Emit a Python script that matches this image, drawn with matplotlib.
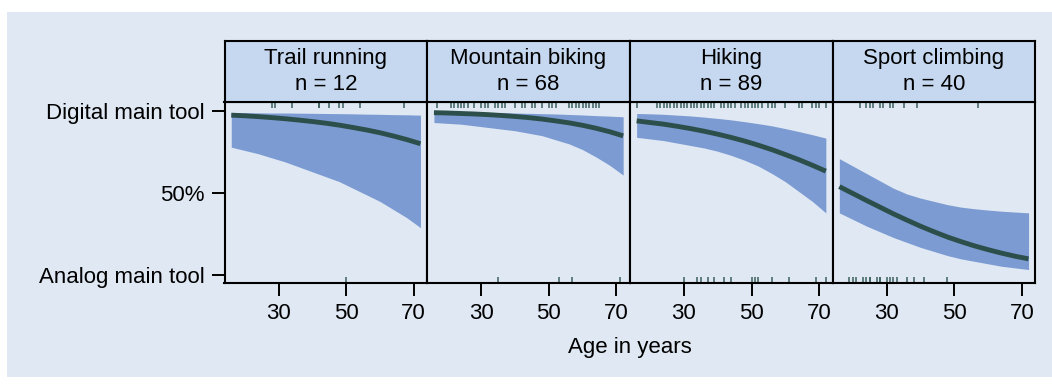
"""Predicted probability of digital main tool by age, per sport."""
import matplotlib
matplotlib.use("Agg")
import matplotlib.pyplot as plt
from matplotlib.patches import Rectangle

plt.rcParams["font.family"] = ["Liberation Sans", "DejaVu Sans"]

# ---- data ----
SPORTS = ["Trail running", "Mountain biking", "Hiking", "Sport climbing"]
N_OBS = [12, 68, 89, 40]

AGES = [16, 20, 24, 28, 32, 36, 40, 44, 48, 52, 56, 60, 64, 68, 72]

fit_trail = [0.975, 0.971, 0.966, 0.960, 0.953, 0.945, 0.936, 0.926, 0.914,
             0.900, 0.885, 0.868, 0.848, 0.826, 0.801]
lo_trail = [0.78, 0.76, 0.74, 0.715, 0.69, 0.66, 0.63, 0.60, 0.57, 0.53,
            0.49, 0.45, 0.40, 0.35, 0.29]
hi_trail = [0.990, 0.990, 0.989, 0.988, 0.988, 0.987, 0.986, 0.985, 0.984,
            0.983, 0.981, 0.980, 0.978, 0.977, 0.975]

fit_mtb = [0.990, 0.988, 0.985, 0.982, 0.978, 0.973, 0.967, 0.960, 0.951,
           0.940, 0.928, 0.913, 0.895, 0.874, 0.849]
lo_mtb = [0.93, 0.925, 0.92, 0.91, 0.90, 0.89, 0.88, 0.865, 0.85, 0.825,
          0.80, 0.765, 0.72, 0.67, 0.61]
hi_mtb = [0.995, 0.994, 0.993, 0.992, 0.991, 0.990, 0.988, 0.986, 0.984,
          0.982, 0.979, 0.976, 0.972, 0.969, 0.965]

fit_hike = [0.940, 0.930, 0.920, 0.907, 0.893, 0.877, 0.859, 0.839, 0.817,
            0.792, 0.765, 0.735, 0.704, 0.670, 0.634]
lo_hike = [0.84, 0.83, 0.82, 0.805, 0.79, 0.775, 0.755, 0.73, 0.70, 0.665,
           0.62, 0.57, 0.51, 0.45, 0.38]
hi_hike = [0.985, 0.983, 0.980, 0.975, 0.970, 0.963, 0.955, 0.946, 0.935,
           0.923, 0.910, 0.893, 0.875, 0.856, 0.835]

fit_climb = [0.540, 0.498, 0.456, 0.415, 0.374, 0.336, 0.299, 0.265, 0.233,
             0.205, 0.179, 0.156, 0.135, 0.116, 0.100]
lo_climb = [0.38, 0.34, 0.30, 0.265, 0.23, 0.20, 0.17, 0.145, 0.12, 0.10,
            0.085, 0.07, 0.055, 0.045, 0.035]
hi_climb = [0.71, 0.665, 0.62, 0.575, 0.53, 0.495, 0.47, 0.45, 0.43, 0.415,
            0.405, 0.397, 0.39, 0.385, 0.38]

FITS = [fit_trail, fit_mtb, fit_hike, fit_climb]
LOWS = [lo_trail, lo_mtb, lo_hike, lo_climb]
HIGHS = [hi_trail, hi_mtb, hi_hike, hi_climb]

# ages of respondents using a digital (top rug) or analog (bottom rug) main tool
digital_trail = [28, 29, 34, 42, 42, 45, 48, 49, 54, 67]
analog_trail = [50]
digital_mtb = [17, 21, 22, 23, 24, 25, 26, 28, 30, 31, 32, 34, 35, 36, 37, 40,
               42, 43, 45, 46, 48, 50, 51, 52, 56, 57, 58, 59, 60, 61, 62, 63,
               64, 65]
analog_mtb = [35, 53, 57, 71]
digital_hike = [16, 22, 23, 24, 25, 26, 27, 28, 29, 30, 31, 32, 33, 34, 35, 36,
                37, 38, 39, 41, 42, 43, 44, 45, 47, 48, 49, 50, 51, 52, 53, 55,
                56, 57, 60, 64, 65, 68, 69, 70, 72]
analog_hike = [30, 34, 35, 37, 39, 42, 44, 50, 51, 52, 56, 61, 69, 72]
digital_climb = [22, 24, 25, 26, 28, 29, 31, 32, 35, 39, 57]
analog_climb = [19, 20, 21, 23, 24, 25, 25, 27, 28, 28, 30, 31, 32, 33, 36, 38,
                41, 48]

DIGITAL = [digital_trail, digital_mtb, digital_hike, digital_climb]
ANALOG = [analog_trail, analog_mtb, analog_hike, analog_climb]

X_TICKS = [30, 50, 70]
Y_TICKS = [0, 0.5, 1]
Y_LABELS = ["Analog main tool", "50%", "Digital main tool"]

# ---- style ----
BG = "#dfe8f3"
STRIP = "#c5d8ef"
BAND = "#7b9bd2"
LINE = "#2d4f4b"
RUG = "#3d615c"
W, H = 1052, 384

fig = plt.figure(figsize=(W / 100, H / 100), dpi=100)
fig.patch.set_facecolor("white")
fig.patches.append(Rectangle((7 / W, 7 / H), 1 - 7 / W, 1 - 19 / H,
                             transform=fig.transFigure, facecolor=BG,
                             edgecolor="none", zorder=-10))

left0 = 224.5
panel_w = 202.7
ax_bottom = (H - 283) / H
ax_h = 181 / H
strip_h = 61 / H

for i, sport in enumerate(SPORTS):
    x0 = (left0 + i * panel_w) / W
    ax = fig.add_axes([x0, ax_bottom, panel_w / W, ax_h])
    ax.set_facecolor(BG)
    ax.fill_between(AGES, LOWS[i], HIGHS[i], color=BAND, lw=0)
    ax.plot(AGES, FITS[i], color=LINE, lw=3.5, solid_capstyle="butt")

    tr = ax.get_xaxis_transform()
    rug = 6 / 181
    ax.vlines(DIGITAL[i], 1 - rug, 1, transform=tr, color=RUG, lw=1.1)
    ax.vlines(ANALOG[i], 0, rug, transform=tr, color=RUG, lw=1.1)

    ax.set_xlim(14, 74)
    ax.set_ylim(-0.047, 1.055)
    ax.set_xticks(X_TICKS)
    ax.set_yticks(Y_TICKS)
    if i == 0:
        ax.set_yticklabels(Y_LABELS)
    else:
        ax.tick_params(axis="y", left=False, labelleft=False)
    ax.tick_params(length=9.5, width=1.4, pad=5, labelsize=16, colors="black")
    for sp in ax.spines.values():
        sp.set_linewidth(1.5)

    sax = fig.add_axes([x0, ax_bottom + ax_h, panel_w / W, strip_h])
    sax.set_facecolor(STRIP)
    sax.set_xticks([])
    sax.set_yticks([])
    for sp in sax.spines.values():
        sp.set_linewidth(1.5)
    sax.text(0.5, 0.5, f"{sport}\nn = {N_OBS[i]}", ha="center", va="center",
             fontsize=16, linespacing=1.32, transform=sax.transAxes)

fig.text((left0 + 2 * panel_w) / W, (H - 347) / H, "Age in years",
         ha="center", va="center", fontsize=16)

fig.savefig("out.png", dpi=100, facecolor=fig.get_facecolor())
